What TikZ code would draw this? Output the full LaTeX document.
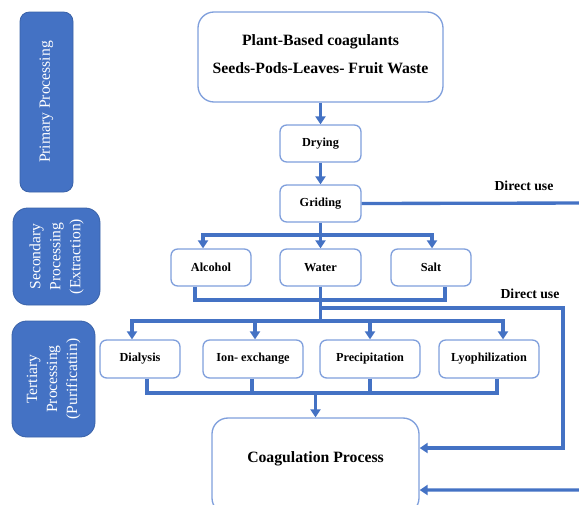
\documentclass[tikz,border=0pt]{standalone}
\usepackage{fontspec}
\setmainfont{Liberation Serif}
\usetikzlibrary{arrows.meta,calc}
\definecolor{flowblue}{HTML}{4472C4}
\definecolor{edgeblue}{HTML}{7F9FDC}
\definecolor{darkedge}{HTML}{3A62A8}
\begin{document}
\begin{tikzpicture}[x=0.75pt,y=-0.75pt,
  stage/.style={draw=darkedge,line width=0.6pt,fill=flowblue,text=white,
    rounded corners=11pt,inner sep=0pt,align=center},
  stagetext/.style={text=white,rotate=90,align=center,inner sep=0pt,
    font=\fontsize{11.7}{15}\selectfont},
  stepbox/.style={draw=edgeblue,line width=1pt,rounded corners=5pt,fill=white,
    minimum height=27.75pt,inner sep=0pt,
    font=\bfseries\fontsize{9.2}{11}\selectfont},
  bigbox/.style={draw=edgeblue,line width=1pt,rounded corners=12pt,fill=white,inner sep=0pt},
  bigtext/.style={inner sep=0pt,align=center,font=\bfseries\fontsize{11.8}{14}\selectfont},
  note/.style={inner sep=0pt,font=\bfseries\fontsize{10.3}{12}\selectfont},
  flow/.style={draw=flowblue,line width=2.5pt},
  flowarrow/.style={flow,-{Triangle[width=7.5pt,length=6pt]}}
]
\useasboundingbox (0,0) rectangle (579,504);
\clip (0,0) rectangle (579,504);

% stage labels on the left
\node[stage,minimum width=39.75pt,minimum height=135pt,rounded corners=7pt] (primary) at (46.5,102) {};
\node[stagetext] at (primary.center) {Primary Processing};
\node[stage,minimum width=65.25pt,minimum height=72.75pt] (secondary) at (56.5,256.5) {};
\node[stagetext] at (secondary.center) {Secondary\\Processing\\(Extraction)};
\node[stage,minimum width=62.25pt,minimum height=87pt] (tertiary) at (53.5,379) {};
\node[stagetext] at (tertiary.center) {Tertiary\\Processing\\(Purificatiin)};

% raw material
\node[bigbox,minimum width=183.75pt,minimum height=67.5pt] (plant) at (320.5,57) {};
\node[bigtext] (planttext) at (320.5,54) {Plant-Based coagulants\\[6.5pt]Seeds-Pods-Leaves- Fruit Waste};

% primary processing
\node[stepbox,minimum width=60.75pt] (drying) at (320.5,143.5) {Drying};
\node[stepbox,minimum width=60.75pt] (griding) at (320.5,203.5) {Griding};

% extraction
\node[stepbox,minimum width=60pt] (alcohol) at (211,267.5) {Alcohol};
\node[stepbox,minimum width=60.75pt] (water) at (320.5,267.5) {Water};
\node[stepbox,minimum width=60pt] (salt) at (431,267.5) {Salt};

% purification
\node[stepbox,minimum width=60pt,minimum height=28.5pt] (dialysis) at (140,359) {Dialysis};
\node[stepbox,minimum width=75pt,minimum height=28.5pt] (ionex) at (253,359) {Ion- exchange};
\node[stepbox,minimum width=75pt,minimum height=28.5pt] (precip) at (370,359) {Precipitation};
\node[stepbox,minimum width=75pt,minimum height=28.5pt] (lyoph) at (489,359) {Lyophilization};

% final step
\node[bigbox,minimum width=155.25pt,minimum height=72pt] (coag) at (315.5,466) {};
\node[bigtext] (coagtext) at (315.5,459) {Coagulation Process};

% helper points
\coordinate (split1) at (320.5,235);
\coordinate (join1) at (320.5,300);
\coordinate (tap) at (320.5,308);
\coordinate (split2) at (320.5,321);
\coordinate (join2) at (315.5,393);
\coordinate (outA) at (592,203);
\coordinate (outB) at (592,490);
\coordinate (sideA) at (563,308);
\coordinate (sideB) at (563,448);

% primary chain
\draw[flowarrow] (plant.south) -- (drying.north);
\draw[flowarrow] (drying.south) -- (griding.north);

% direct use of ground material
\draw[flowarrow] (griding.east) -- (outA) -- (outB) -- (coag.east |- outB);
\node[note] (direct1) at (524,186) {Direct use};

% extraction branches
\draw[flow] (griding.south) -- (split1);
\draw[flowarrow] (split1) -| ($(alcohol.north)+(-8,0)$);
\draw[flowarrow] (split1) -- (water.north);
\draw[flowarrow] (split1) -| ($(salt.north)+(1,0)$);
\draw[flow] ($(alcohol.south)+(-16,0)$) |- (join1) -| ($(salt.south)+(14,0)$);
\draw[flow] (water.south) -- (split2);

% direct use of extract
\draw[flowarrow] (tap) -- (sideA) -- (sideB) -- (coag.east |- sideB);
\node[note] (direct2) at (530,294) {Direct use};

% purification branches
\draw[flowarrow] (split2) -| ($(dialysis.north)+(-8,0)$);
\draw[flowarrow] (split2) -| ($(ionex.north)+(2,0)$);
\draw[flowarrow] (split2) -| (precip.north);
\draw[flowarrow] (split2) -| ($(lyoph.north)+(14,0)$);
\draw[flow] ($(dialysis.south)+(7,0)$) |- (join2);
\draw[flow] ($(ionex.south)+(-1,0)$) |- (join2);
\draw[flow] (precip.south) |- (join2);
\draw[flow] ($(lyoph.south)+(8,0)$) |- (join2);
\draw[flowarrow] (join2) -- (coag.north);
\end{tikzpicture}
\end{document}
